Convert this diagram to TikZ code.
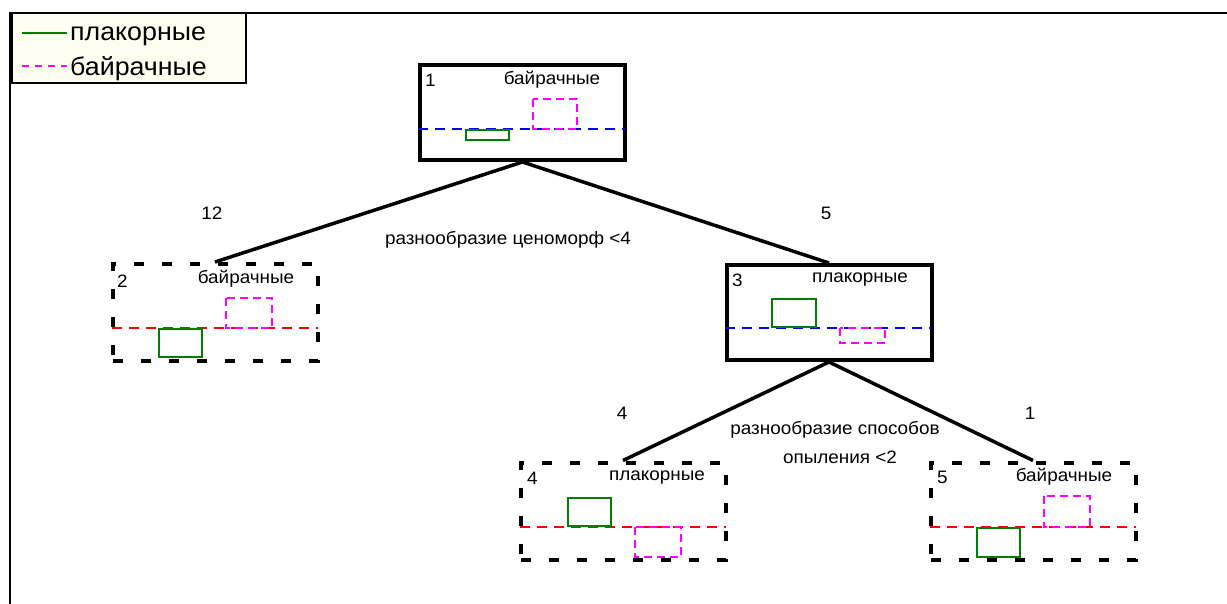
\documentclass[tikz,border=0pt]{standalone}
\usepackage{fontspec}
\setmainfont{Liberation Sans}
\newfontfamily\wfont[FakeStretch=1.05]{Liberation Sans}
\definecolor{legfill}{HTML}{FFFCF0}
\definecolor{dgreen}{HTML}{008000}
\definecolor{pmag}{HTML}{FF00FF}
\definecolor{pblue}{HTML}{0000FF}
\definecolor{pred}{HTML}{FF0000}
\tikzset{
  solidbox/.style={draw=black, line width=4pt, minimum width=205pt, minimum height=95pt, inner sep=0pt},
  dashbox/.style={draw=black, line width=4pt, dash pattern=on 10pt off 18pt, minimum width=205pt, minimum height=97pt, inner sep=0pt},
  edge/.style={line width=3.5pt, black},
  txt/.style={font=\wfont\fontsize{18}{21}\selectfont, inner sep=0pt},
  legtxt/.style={font=\wfont\fontsize{25.5}{29}\selectfont, inner sep=0pt, anchor=west},
  bluel/.style={draw=pblue, line width=2pt, dash pattern=on 10pt off 7pt},
  redl/.style={draw=pred, line width=2pt, dash pattern=on 10pt off 7pt},
  grect/.style={draw=dgreen, line width=2pt},
  mrect/.style={draw=pmag, line width=2pt, dash pattern=on 8pt off 5pt},
}
\begin{document}
\begin{tikzpicture}[x=1pt,y=-1pt]
\useasboundingbox (0,0) rectangle (1227,604);
% outer frame
\coordinate (fb) at (10,604);
\coordinate (ft) at (10,13);
\coordinate (fr) at (1227,13);
\draw[line width=2pt] (fb) -- (ft) -- (fr);
% legend
\node[draw=black, line width=2.2pt, fill=legfill, minimum width=234pt, minimum height=70pt, inner sep=0pt] (leg) at (129,48) {};
\coordinate (lg1) at (22,33); \coordinate (lg2) at (67,33);
\draw[dgreen, line width=2pt] (lg1) -- (lg2);
\coordinate (lm1) at (22,66); \coordinate (lm2) at (67,66);
\draw[pmag, line width=2pt, dash pattern=on 7pt off 6pt] (lm1) -- (lm2);
\node[legtxt] (lt1) at (70,36) {плакорные};
\node[legtxt] (lt2) at (70,69) {байрачные};

% node boxes
\node[solidbox] (n1) at (522.5,112.5) {};
\node[dashbox] (n2) at (215,312.5) {};
\node[solidbox] (n3) at (829,312.5) {};
\node[dashbox] (n4) at (623,511) {};
\node[dashbox] (n5) at (1033,511) {};

% edges
\draw[edge] (n1.south) -- (n2.north);
\draw[edge] (n1.south) -- (n3.north);
\draw[edge] (n3.south) -- (n4.north);
\draw[edge] (n3.south) -- (n5.north);

% node 1 content
\node[txt, anchor=west] (l1) at (425,80) {1};
\node[txt] (c1) at (552,80) {байрачные};
\draw[bluel] (418,129) -- (625,129);
\draw[grect] (466,130) rectangle (509,140);
\draw[mrect] (533,99) rectangle (577,129);

% node 2 content
\node[txt, anchor=west] (l2) at (117,281) {2};
\node[txt] (c2) at (246,279) {байрачные};
\draw[redl] (112,328) -- (318,328);
\draw[grect] (159,329) rectangle (202,357);
\draw[mrect] (226,298) rectangle (272,328);

% node 3 content
\node[txt, anchor=west] (l3) at (732,280) {3};
\node[txt] (c3) at (860,280) {плакорные};
\draw[bluel] (725,328) -- (931,328);
\draw[grect] (772,299) rectangle (816,327);
\draw[mrect] (840,328) rectangle (885,343);

% node 4 content
\node[txt, anchor=west] (l4) at (527,478) {4};
\node[txt] (c4) at (657,478) {плакорные};
\draw[redl] (520,527) -- (726,527);
\draw[grect] (568,498) rectangle (611,526);
\draw[mrect] (635,527) rectangle (681,557);

% node 5 content
\node[txt, anchor=west] (l5) at (937,477) {5};
\node[txt] (c5) at (1064,477) {байрачные};
\draw[redl] (930,527) -- (1136,527);
\draw[grect] (977,528) rectangle (1020,557);
\draw[mrect] (1044,496) rectangle (1090,527);

% edge labels
\node[txt] (e12) at (212,213) {12};
\node[txt] (e5) at (826,213) {5};
\node[txt] (s1) at (508,240) {разнообразие ценоморф <4};
\node[txt] (e4) at (622,413) {4};
\node[txt] (e1) at (1030,413) {1};
\node[txt] (s2a) at (835,430) {разнообразие способов};
\node[txt] (s2b) at (840,457) {опыления <2};
\end{tikzpicture}
\end{document}
